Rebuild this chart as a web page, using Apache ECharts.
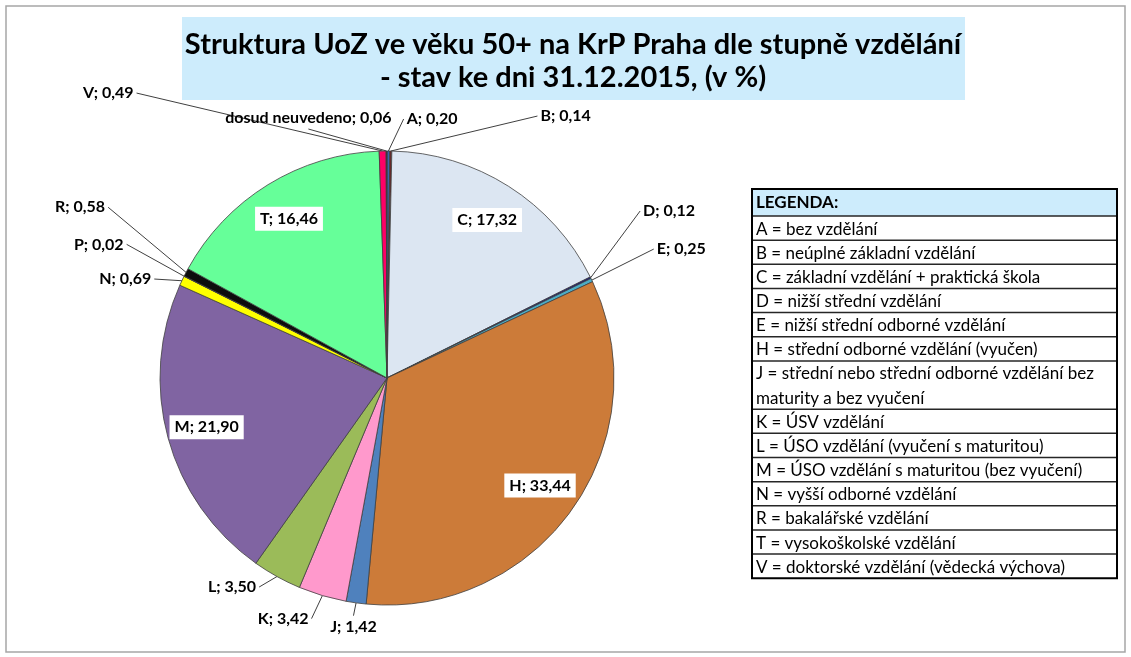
<!DOCTYPE html>
<html>
<head>
<meta charset="utf-8">
<script src="https://cdn.jsdelivr.net/npm/echarts@6/dist/echarts.min.js"></script>
<style>
html, body { margin: 0; padding: 0; background: #fff; }
#chart { width: 1131px; height: 657px; }
</style>
</head>
<body>
<div id="chart"></div>
<script>
// kódy stupňů vzdělání a podíly UoZ 50+ (v %)
const codes = ['A', 'B', 'C', 'D', 'E', 'H', 'J', 'K', 'L', 'M', 'N', 'P', 'R', 'T', 'V', 'dosud neuvedeno'];
const shares = [0.20, 0.14, 17.32, 0.12, 0.25, 33.44, 1.42, 3.42, 3.50, 21.90, 0.69, 0.02, 0.58, 16.46, 0.49, 0.06];
const insideCodes = ['C', 'H', 'M', 'T'];

const titleLines = [
    'Struktura UoZ ve věku 50+ na KrP Praha dle stupně vzdělání',
    '- stav ke dni 31.12.2015, (v %)'
];
const legendHeader = 'LEGENDA:';
const legendRows = [
    ['A = bez vzdělání'],
    ['B = neúplné základní vzdělání'],
    ['C = základní vzdělání + praktická škola'],
    ['D = nižší střední vzdělání'],
    ['E = nižší střední odborné vzdělání'],
    ['H = střední odborné vzdělání (vyučen)'],
    ['J = střední nebo střední odborné vzdělání bez', 'maturity a bez vyučení'],
    ['K = ÚSV vzdělání'],
    ['L = ÚSO vzdělání (vyučení s maturitou)'],
    ['M = ÚSO vzdělání s maturitou (bez vyučení)'],
    ['N = vyšší odborné vzdělání'],
    ['R = bakalářské vzdělání'],
    ['T = vysokoškolské vzdělání'],
    ['V = doktorské vzdělání (vědecká výchova)']
];

// barvy výsečí
const sliceColors = {
    'A': '#3c66b0', 'B': '#6e2626', 'C': '#dce6f2', 'D': '#1c1c7c', 'E': '#4bacc6',
    'H': '#cc7b39', 'J': '#4f81bd', 'K': '#ff99cc', 'L': '#9bbb59', 'M': '#8064a2',
    'N': '#ffff00', 'P': '#7f7f7f', 'R': '#0d0d0d', 'T': '#66ff99', 'V': '#ff0066',
    'dosud neuvedeno': '#262626'
};
// délky odkazových čar [length, length2]
const leader = {
    'A': [32, 13], 'B': [35, 144], 'D': [151, -88], 'E': [72, -5],
    'J': [24, -29], 'K': [24, 2], 'L': [12, 10], 'N': [4, 22],
    'P': [71, -8], 'R': [140, -48], 'V': [58, 243], 'dosud neuvedeno': [33, -10]
};

const FONT = 'Lato, "Open Sans", sans-serif';
const cx = 387, cy = 378, R = 227;

function fmt(v) {
    return v.toFixed(2).replace('.', ',');
}

const mainData = codes.map(function (c, i) {
    const inside = insideCodes.indexOf(c) >= 0;
    const item = {
        name: c,
        value: shares[i],
        itemStyle: { color: sliceColors[c] }
    };
    if (inside) {
        item.label = { show: false };
        item.labelLine = { show: false };
    } else {
        item.labelLine = { length: leader[c][0], length2: leader[c][1] };
    }
    return item;
});

const innerData = codes.map(function (c, i) {
    return {
        name: c,
        value: shares[i],
        label: { show: insideCodes.indexOf(c) >= 0 }
    };
});

// rovná čára od výseče k nejbližší straně popisku (jako v Excelu)
function straightLeader(params) {
    const pts = params.labelLinePoints;
    if (!pts) return;
    const p = pts[0], r = params.labelRect, g = 3;
    let q;
    if (p[0] >= r.x && p[0] <= r.x + r.width) {
        q = [r.x + r.width / 2, p[1] < r.y ? r.y - g : r.y + r.height + g];
    } else {
        q = [p[0] < r.x ? r.x - g : r.x + r.width + g, r.y + r.height / 2];
    }
    return { labelLinePoints: [p, q] };
}

// legenda jako tabulka
const tblX = 752, tblW = 365, tblTop = 189, headH = 27, lineH = 24.15;
const legendGraphics = [];
legendGraphics.push({
    type: 'rect', shape: { x: tblX, y: tblTop, width: tblW, height: headH },
    style: { fill: '#cdecfc' }
});
legendGraphics.push({
    type: 'text', x: tblX + 4, y: tblTop + headH / 2,
    style: { text: legendHeader, font: 'bold 17px ' + FONT, fill: '#000', verticalAlign: 'middle' }
});
let yy = tblTop + headH;
legendRows.forEach(function (row) {
    legendGraphics.push({
        type: 'line', shape: { x1: tblX, y1: yy, x2: tblX + tblW, y2: yy },
        style: { stroke: '#262626', lineWidth: 1.5 }
    });
    row.forEach(function (t, k) {
        legendGraphics.push({
            type: 'text', x: tblX + 4, y: yy + lineH * k + lineH / 2 + 1,
            style: { text: t, font: '17px ' + FONT, fill: '#000', verticalAlign: 'middle' }
        });
    });
    yy += lineH * row.length;
});
legendGraphics.push({
    type: 'rect', shape: { x: tblX, y: tblTop, width: tblW, height: yy - tblTop },
    style: { fill: 'none', stroke: '#000', lineWidth: 2 }
});

const myChart = echarts.init(document.getElementById('chart'));
const option = {
    backgroundColor: '#fff',
    animation: false,
    graphic: [
        {
            type: 'rect', shape: { x: 6, y: 6, width: 1119, height: 646 },
            style: { fill: 'none', stroke: '#a6a6a6', lineWidth: 1.5 }, z: -10
        },
        {
            type: 'rect', shape: { x: 182, y: 17, width: 783, height: 83 },
            style: { fill: '#cdecfc' }, z: 10
        },
        {
            type: 'text', x: 573, y: 45, z: 11,
            style: { text: titleLines[0], font: 'bold 29px ' + FONT, fill: '#000', align: 'center', verticalAlign: 'middle' }
        },
        {
            type: 'text', x: 573, y: 78, z: 11,
            style: { text: titleLines[1], font: 'bold 29px ' + FONT, fill: '#000', align: 'center', verticalAlign: 'middle' }
        }
    ].concat(legendGraphics),
    series: [
        {
            type: 'pie',
            center: [cx, cy],
            radius: [0, R],
            startAngle: 90,
            clockwise: true,
            avoidLabelOverlap: false,
            silent: true,
            itemStyle: { borderColor: '#404040', borderWidth: 0.8 },
            label: {
                show: true,
                position: 'outside',
                formatter: function (p) { return p.name + '; ' + fmt(p.value); },
                fontFamily: FONT,
                fontSize: 16,
                fontWeight: 'bold',
                color: '#000',
                distanceToLabelLine: 5
            },
            labelLine: {
                show: true,
                lineStyle: { color: '#404040', width: 1 }
            },
            labelLayout: straightLeader,
            data: mainData
        },
        {
            type: 'pie',
            center: [cx, cy],
            radius: [141, R],
            startAngle: 90,
            clockwise: true,
            silent: true,
            avoidLabelOverlap: false,
            itemStyle: { color: 'rgba(0,0,0,0)', borderWidth: 0 },
            label: {
                position: 'inside',
                formatter: function (p) { return p.name + '; ' + fmt(p.value); },
                fontFamily: FONT,
                fontSize: 16,
                fontWeight: 'bold',
                color: '#000',
                backgroundColor: '#fff',
                padding: [4, 5]
            },
            labelLine: { show: false },
            data: innerData
        }
    ]
};
myChart.setOption(option);
</script>
</body>
</html>
